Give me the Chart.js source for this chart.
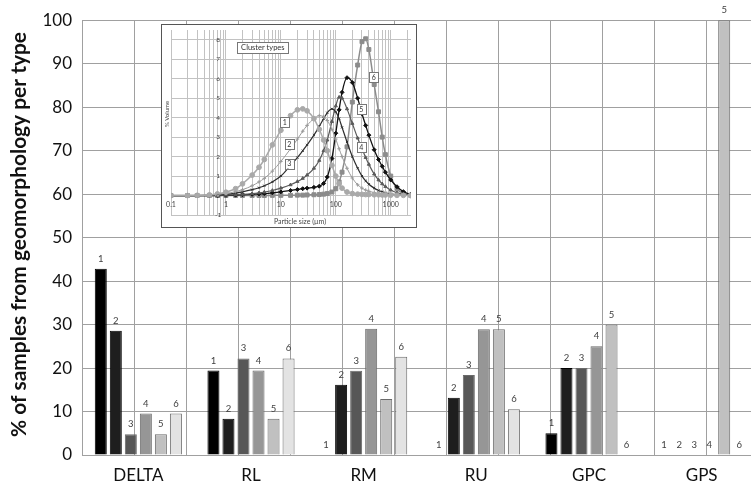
<!DOCTYPE html>
<html><head><meta charset="utf-8">
<script src="https://cdn.jsdelivr.net/npm/chart.js@4.4.0/dist/chart.umd.min.js"></script>
<style>
html,body{margin:0;padding:0;background:#fff;overflow:hidden;width:751px;height:487px;}
#main{position:absolute;left:0;top:0;}
#insetBox{position:absolute;left:161px;top:24px;width:256px;height:204px;border:1px solid #555;box-sizing:border-box;background:#fff;}
#inset{position:absolute;left:0;top:0;}
</style></head><body>
<canvas id="main" width="760" height="487"></canvas>
<div id="insetBox"><canvas id="inset" width="254" height="202"></canvas></div>
<script>
// ---------- main bar chart data ----------
const categories = ['DELTA', 'RL', 'RM', 'RU', 'GPC', 'GPS'];
const clusterNames = ['1', '2', '3', '4', '5', '6'];
const type1 = [42.86, 19.44, 0, 0, 5, 0];
const type2 = [28.57, 8.33, 16.13, 13.16, 20, 0];
const type3 = [4.76, 22.22, 19.35, 18.42, 20, 0];
const type4 = [9.52, 19.44, 29.03, 28.95, 25, 0];
const type5 = [4.76, 8.33, 12.90, 28.95, 30, 100];
const type6 = [9.52, 22.22, 22.58, 10.53, 0, 0];
const yTitle = '% of samples from geomorphology per type';

// ---------- inset (particle size distribution) data ----------
const sizes = [0.1, 0.2, 0.3, 0.5, 0.7, 1, 1.5, 2, 3, 4, 5, 7, 10, 15, 20, 25, 30, 40, 50, 60, 70, 85, 100, 115, 130, 160, 200, 250, 300, 350, 400, 500, 600, 700, 800, 1000, 1300, 1700, 2300];
const vol1 = [0, 0, 0.01, 0.03, 0.08, 0.17, 0.35, 0.6, 1.05, 1.45, 1.85, 2.6, 3.35, 4.1, 4.4, 4.45, 4.35, 3.95, 3.4, 2.85, 2.3, 1.55, 1.0, 0.6, 0.38, 0.18, 0.1, 0.07, 0.06, 0.05, 0.05, 0.04, 0.04, 0.03, 0.03, 0.02, 0.01, 0.01, 0];
const vol2 = [0, 0, 0.01, 0.03, 0.06, 0.11, 0.2, 0.3, 0.5, 0.7, 0.88, 1.25, 1.75, 2.4, 2.9, 3.3, 3.6, 3.95, 4.1, 4.05, 3.85, 3.4, 2.9, 2.4, 2.0, 1.4, 0.9, 0.55, 0.38, 0.28, 0.22, 0.15, 0.11, 0.09, 0.07, 0.05, 0.03, 0.02, 0.01];
const vol3 = [0, 0, 0, 0.02, 0.04, 0.07, 0.13, 0.19, 0.3, 0.4, 0.5, 0.7, 1.0, 1.55, 1.95, 2.3, 2.6, 3.1, 3.55, 3.95, 4.25, 4.45, 4.3, 3.95, 3.5, 2.75, 2.0, 1.4, 1.0, 0.75, 0.58, 0.38, 0.26, 0.19, 0.14, 0.09, 0.05, 0.03, 0.01];
const vol4 = [0, 0, 0, 0, 0.01, 0.02, 0.04, 0.06, 0.1, 0.14, 0.18, 0.26, 0.38, 0.55, 0.72, 0.88, 1.05, 1.4, 1.8, 2.3, 2.85, 3.8, 4.6, 5.05, 5.0, 4.45, 3.7, 2.95, 2.4, 1.95, 1.6, 1.1, 0.8, 0.6, 0.46, 0.28, 0.14, 0.06, 0.02];
const vol5 = [0, 0, 0, 0, 0, 0.01, 0.02, 0.04, 0.06, 0.08, 0.1, 0.14, 0.19, 0.26, 0.31, 0.35, 0.38, 0.42, 0.48, 0.62, 0.95, 1.9, 3.2, 4.4, 5.3, 6.05, 5.8, 5.0, 4.2, 3.6, 3.1, 2.35, 1.85, 1.5, 1.2, 0.8, 0.45, 0.2, 0.05];
const vol6 = [0, 0, 0, 0, 0, 0, 0, 0, 0, 0, 0, 0.01, 0.01, 0.01, 0.02, 0.02, 0.03, 0.04, 0.05, 0.07, 0.1, 0.18, 0.35, 0.7, 1.2, 2.5, 4.8, 6.7, 7.9, 8.05, 7.5, 5.7, 4.3, 3.0, 2.1, 1.0, 0.35, 0.1, 0.02];
const yInsetTicks = [-1, 0, 1, 2, 3, 4, 5, 6, 7, 8];
const xInsetTicks = [0.1, 1, 10, 100, 1000];
// label boxes: [text, size (µm), % volume]
const curveTags = [['1', 11.8, 3.78], ['2', 14.3, 2.64], ['3', 14.3, 1.64], ['4', 292, 2.49], ['5', 292, 4.42], ['6', 492, 6.07]];

const FONT = 'Lato, "Open Sans", sans-serif';
const barColors = ['#000000', '#1e1e1e', '#575757', '#969696', '#c0c0c0', '#e3e3e3'];
const seriesVals = [type1, type2, type3, type4, type5, type6];

const barLabelPlugin = {
  id: 'barLabels',
  afterDatasetsDraw(chart) {
    const ctx = chart.ctx;
    ctx.save();
    ctx.font = '9.5px ' + FONT;
    ctx.fillStyle = '#404040';
    ctx.textAlign = 'center';
    ctx.textBaseline = 'middle';
    chart.data.datasets.forEach((ds, i) => {
      chart.getDatasetMeta(i).data.forEach(el => {
        ctx.fillText(ds.label, el.x, el.y - 10);
      });
    });
    ctx.restore();
  }
};
const yTitlePlugin = {
  id: 'yTitle',
  afterDraw(chart) {
    const ctx = chart.ctx;
    ctx.save();
    ctx.font = 'bold 20px ' + FONT;
    const w = ctx.measureText(yTitle).width;
    const size = 20 * 405 / w;
    ctx.font = 'bold ' + size.toFixed(2) + 'px ' + FONT;
    ctx.fillStyle = '#111';
    ctx.translate(19, 234.5);
    ctx.rotate(-Math.PI / 2);
    ctx.textAlign = 'center';
    ctx.textBaseline = 'middle';
    ctx.fillText(yTitle, 0, 0);
    ctx.restore();
  }
};

new Chart(document.getElementById('main'), {
  type: 'bar',
  data: {
    labels: categories,
    datasets: seriesVals.map((v, i) => ({
      label: clusterNames[i], data: v, backgroundColor: barColors[i],
      borderColor: i < 2 ? '#000' : '#6a6a6a', borderWidth: 1,
      categoryPercentage: 0.8, barPercentage: 0.8
    }))
  },
  options: {
    responsive: false, animation: false, devicePixelRatio: 1,
    layout: { padding: { top: 15, right: 2, left: 0, bottom: 0 } },
    plugins: { legend: { display: false }, tooltip: { enabled: false } },
    scales: {
      x: { type: 'category', offset: true, grid: { display: false, drawTicks: false }, border: { display: false },
        ticks: { font: { family: FONT, size: 17 }, color: '#111', padding: 10, maxRotation: 0 },
        afterFit(s) { s.height = 32; } },
      x2: { type: 'linear', position: 'bottom', min: 0, max: 12,
        ticks: { display: false, stepSize: 1 }, grid: { color: '#a0a0a0', drawTicks: false },
        border: { display: false }, afterFit(s) { s.height = 0; } },
      y: { min: 0, max: 100, ticks: { stepSize: 10, font: { family: FONT, size: 17 }, color: '#111', padding: 10 },
        grid: { color: '#a0a0a0', drawTicks: false }, border: { display: false },
        afterFit(s) { s.width = 82; } }
    }
  },
  plugins: [barLabelPlugin, yTitlePlugin]
});

// ---------- inset ----------
const gridVals = [];
[0.1, 1, 10, 100, 1000].forEach(d => { for (let k = 1; k <= 9; k++) { if (d * k <= 2340) gridVals.push(+(d * k).toPrecision(3)); } });

const insetStyles = [
  { c: '#a9a9a9', p: 'circle', r: 2.4, w: 1.5 },
  { c: '#9a9a9a', p: 'cross', r: 1.8, w: 1 },
  { c: '#2e2e2e', p: 'crossRot', r: 1.5, w: 1.2 },
  { c: '#5a5a5a', p: 'triangle', r: 1.8, w: 1.2 },
  { c: '#111111', p: 'rectRot', r: 2, w: 1.3 },
  { c: '#8c8c8c', p: 'rect', r: 2.8, w: 1.5 }
];
const insetVals = [vol1, vol2, vol3, vol4, vol5, vol6];

const insetLabelPlugin = {
  id: 'insetLabels',
  afterDatasetsDraw(chart) {
    const ctx = chart.ctx, xs = chart.scales.x, ys = chart.scales.y;
    ctx.save();
    ctx.font = '6.5px ' + FONT;
    ctx.fillStyle = '#444';
    ctx.textAlign = 'center';
    ctx.textBaseline = 'middle';
    yInsetTicks.forEach(v => ctx.fillText(String(v), xs.getPixelForValue(0.72), ys.getPixelForValue(v)));
    ctx.font = '7px ' + FONT;
    xInsetTicks.forEach(v => ctx.fillText(String(v), xs.getPixelForValue(v), ys.getPixelForValue(-0.47)));
    ctx.fillText('Particle size (\u00b5m)', 138, 196.5);
    ctx.save();
    ctx.translate(5, 89);
    ctx.rotate(-Math.PI / 2);
    ctx.font = '6px ' + FONT;
    ctx.fillText('% Volume', 0, 0);
    ctx.restore();
    const boxTag = (txt, x, y, pad, h, fs) => {
      ctx.font = fs + 'px ' + FONT;
      const w = ctx.measureText(txt).width + pad * 2;
      ctx.fillStyle = '#fff';
      ctx.fillRect(x - w / 2, y - h / 2, w, h);
      ctx.strokeStyle = '#777';
      ctx.lineWidth = 1;
      ctx.strokeRect(Math.round(x - w / 2) + 0.5, Math.round(y - h / 2) + 0.5, Math.round(w), h);
      ctx.fillStyle = '#333';
      ctx.fillText(txt, x, y + 0.5);
    };
    boxTag('Cluster types', xs.getPixelForValue(4.7), ys.getPixelForValue(7.6), 4, 11, 7.5);
    curveTags.forEach(t => boxTag(t[0], xs.getPixelForValue(t[1]), ys.getPixelForValue(t[2]), 2.5, 10, 7));
    ctx.restore();
  }
};

new Chart(document.getElementById('inset'), {
  type: 'line',
  data: {
    datasets: insetVals.map((vals, i) => ({
      label: clusterNames[i],
      data: sizes.map((s, j) => ({ x: s, y: vals[j] })),
      borderColor: insetStyles[i].c, backgroundColor: insetStyles[i].c,
      borderWidth: insetStyles[i].w, pointStyle: insetStyles[i].p, pointRadius: insetStyles[i].r,
      pointBorderWidth: 1, pointBorderColor: insetStyles[i].c,
      cubicInterpolationMode: 'monotone', fill: false
    }))
  },
  options: {
    responsive: false, animation: false, devicePixelRatio: 1,
    layout: { padding: { left: 9, right: 0, top: 0, bottom: 12 } },
    plugins: { legend: { display: false }, tooltip: { enabled: false } },
    scales: {
      x: { type: 'logarithmic', min: 0.1, max: 2340, ticks: { display: false },
        grid: { color: '#c2c2c2', drawTicks: false }, border: { display: false },
        afterBuildTicks(s) { s.ticks = gridVals.map(v => ({ value: v })); } },
      y: { type: 'linear', min: -1, max: 8.5, ticks: { display: false },
        grid: { color: '#c2c2c2', drawTicks: false }, border: { display: false },
        afterBuildTicks(s) { s.ticks = yInsetTicks.map(v => ({ value: v })); } }
    }
  },
  plugins: [insetLabelPlugin]
});
</script>
</body></html>
